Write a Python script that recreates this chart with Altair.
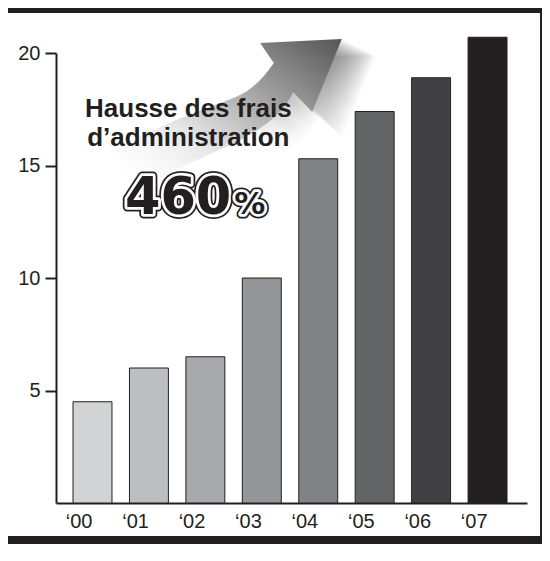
import altair as alt
import pandas as pd

# ---- data ----
years = ["‘00", "‘01", "‘02", "‘03", "‘04", "‘05", "‘06", "‘07"]
values = [4.5, 6.0, 6.5, 10.0, 15.3, 17.4, 18.9, 20.7]
colors = ["#d1d3d4", "#bcbec0", "#a7a9ac", "#939598",
          "#808285", "#636466", "#414042", "#231f20"]
y_ticks = [5, 10, 15, 20]
title_lines = ["Hausse des frais", "d’administration"]
pct_number = "460"
pct_sign = "%"

INK = "#231f20"
NARROW = "Liberation Sans Narrow, Arial Narrow, Liberation Sans, sans-serif"
HEAVY = "DejaVu Sans, Liberation Sans, sans-serif"

bars_df = pd.DataFrame({"year": years, "value": values})

x_scale = alt.Scale(domain=years, paddingInner=0.31, paddingOuter=0.328, align=0.46)
y_scale = alt.Scale(domain=[0, 20], nice=False, zero=True)

x_enc = alt.X("year:N", scale=x_scale, sort=years,
              axis=alt.Axis(title=None, ticks=False, domainWidth=2, domainColor=INK,
                            labelColor=INK, labelFont=NARROW, labelFontSize=20,
                            labelBaseline="alphabetic", labelPadding=24,
                            labelAngle=0, grid=False))
y_enc = alt.Y("value:Q", scale=y_scale,
              axis=alt.Axis(title=None, values=y_ticks, tickSize=11, tickWidth=2,
                            tickColor=INK, domainWidth=2, domainColor=INK,
                            labelColor=INK, labelFont=NARROW, labelFontSize=20,
                            labelPadding=5, grid=False))

bars = alt.Chart(bars_df).mark_bar(stroke=INK, strokeWidth=1).encode(
    x=x_enc, y=y_enc,
    color=alt.Color("year:N", scale=alt.Scale(domain=years, range=colors), legend=None),
)

# ---- decorative arrow (symbol shape in unit space) ----
ARROW = [
    ("M", [(0.80, -0.815)]),
    ("L", [(-0.017, -0.775)]),
    ("L", [(0.12, -0.575)]),
    ("C", [(0.02, -0.43), (-0.10, -0.30), (-0.25, -0.24)]),
    ("C", [(-0.45, -0.16), (-0.62, -0.10), (-0.82, -0.02)]),
    ("C", [(-1.02, 0.06), (-1.25, 0.18), (-1.45, 0.30)]),
    ("L", [(-1.30, 0.72)]),
    ("C", [(-1.05, 0.57), (-0.80, 0.47), (-0.55, 0.35)]),
    ("C", [(-0.28, 0.23), (0.17, 0.05), (0.313, -0.285)]),
    ("L", [(0.503, -0.085)]),
    ("Z", []),
]


def arrow_path(dx=0.0, dy=0.0, k=1.0):
    parts = []
    for cmd, pts in ARROW:
        coords = " ".join(f"{(px * k + dx):.3f},{(py * k + dy):.3f}" for px, py in pts)
        parts.append(f"{cmd}{coords}")
    return " ".join(parts)


arrow_df = pd.DataFrame({"year": ["‘03"], "value": [17.0]})

arrow_fill = alt.Gradient(
    gradient="linear", x1=0, y1=1, x2=1, y2=0,
    stops=[alt.GradientStop(color="rgba(255,255,255,0)", offset=0),
           alt.GradientStop(color="#e6e6e6", offset=0.35),
           alt.GradientStop(color="#9a9a9a", offset=0.68),
           alt.GradientStop(color="#555555", offset=1)])
shadow_fill = alt.Gradient(
    gradient="linear", x1=0, y1=1, x2=1, y2=0,
    stops=[alt.GradientStop(color="rgba(0,0,0,0)", offset=0),
           alt.GradientStop(color="rgba(0,0,0,0)", offset=0.5),
           alt.GradientStop(color="rgba(0,0,0,1)", offset=1)])

shadow_steps = [(0.012 * i, 0.013 * i, 1.0 + 0.006 * i) for i in range(1, 21)]
shadows = [
    alt.Chart(arrow_df).mark_point(shape=arrow_path(ox, oy, kk), size=40000, filled=True,
                                   color=shadow_fill, opacity=0.032, strokeWidth=0)
    .encode(x=alt.X("year:N", scale=x_scale), y=alt.Y("value:Q", scale=y_scale))
    for ox, oy, kk in shadow_steps
]
arrow = alt.Chart(arrow_df).mark_point(
    shape=arrow_path(), size=40000, filled=True, color=arrow_fill, opacity=1, strokeWidth=0
).encode(x=alt.X("year:N", scale=x_scale), y=alt.Y("value:Q", scale=y_scale))

# ---- headline text ----
title_df = pd.DataFrame({"year": ["‘02", "‘02"], "value": [17.16, 15.87], "t": title_lines})
title = alt.Chart(title_df).mark_text(
    font=NARROW, fontWeight="bold", fontSize=26, color=INK, align="center",
    baseline="alphabetic", dx=-17
).encode(x=alt.X("year:N", scale=x_scale), y=alt.Y("value:Q", scale=y_scale), text="t:N")

num_df = pd.DataFrame({"year": ["‘02"], "value": [12.85], "t": [pct_number]})
sign_df = pd.DataFrame({"year": ["‘02"], "value": [12.85], "t": [pct_sign]})


def outlined(df, size, align, dx):
    enc = dict(x=alt.X("year:N", scale=x_scale), y=alt.Y("value:Q", scale=y_scale), text="t:N")
    common = dict(font=HEAVY, fontWeight="bold", fontSize=size, align=align,
                  baseline="alphabetic", dx=dx)
    outer = alt.Chart(df).mark_text(fill=INK, stroke=INK, strokeWidth=9,
                                    strokeJoin="round", **common).encode(**enc)
    mid = alt.Chart(df).mark_text(fill=INK, stroke="white", strokeWidth=5.5,
                                  strokeJoin="round", **common).encode(**enc)
    inner = alt.Chart(df).mark_text(fill=INK, **common).encode(**enc)
    return [outer, mid, inner]


num_layers = outlined(num_df, 51, "right", 26)
sign_layers = outlined(sign_df, 31, "left", 29)

# ---- frame (decoration) ----
dummy = pd.DataFrame({"k": [0]})
top_band = alt.Chart(dummy).mark_rect(color=INK).encode(
    x=alt.value(-48), x2=alt.value(486), y=alt.value(-45), y2=alt.value(-40))
bottom_band = alt.Chart(dummy).mark_rect(color=INK).encode(
    x=alt.value(-48), x2=alt.value(486), y=alt.value(483), y2=alt.value(491))
right_line = alt.Chart(dummy).mark_rect(color=INK).encode(
    x=alt.value(484), x2=alt.value(486), y=alt.value(-45), y2=alt.value(491))

chart = alt.layer(
    top_band, bottom_band, right_line,
    *shadows, arrow, bars, title, *num_layers, *sign_layers
).properties(
    width=471, height=450,
    padding={"left": 48, "top": 45, "right": 15, "bottom": 41},
    autosize="none",
    background="white",
).configure_view(stroke=None)

chart.save("out.html", embed_options={"renderer": "svg", "actions": False})
